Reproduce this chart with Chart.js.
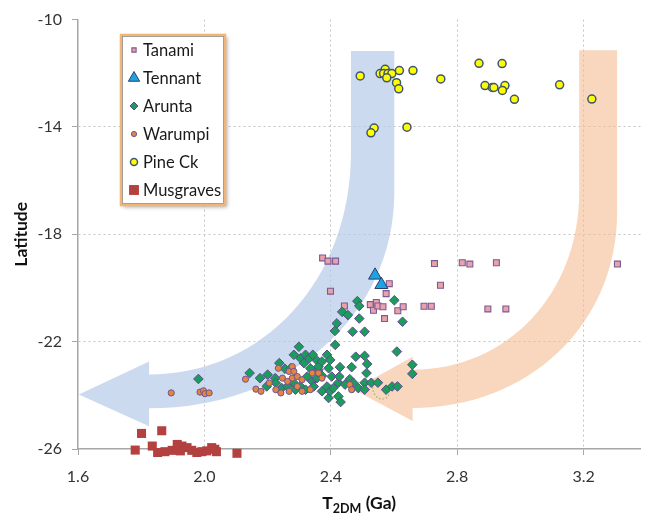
<!DOCTYPE html>
<html>
<head>
<meta charset="utf-8">
<script src="https://cdn.jsdelivr.net/npm/chart.js@4.4.1/dist/chart.umd.min.js"></script>
<style>
  html, body { margin: 0; padding: 0; background: #fff; }
  canvas { display: block; }
</style>
</head>
<body>
<canvas id="chart" width="649" height="521"></canvas>
<script>
// values: [T2DM (Ga), latitude]
const tanami = [
  [2.374,-18.88],[2.391,-19.00],[2.415,-19.00],[2.399,-20.12],[2.443,-20.67],
  [2.525,-20.62],[2.535,-20.83],[2.544,-20.54],[2.549,-20.67],[2.565,-20.70],
  [2.575,-20.21],[2.585,-19.84],[2.612,-20.85],[2.629,-20.70],[2.570,-21.14],
  [2.695,-20.68],[2.718,-20.68],[2.728,-19.09],[2.747,-19.90],[2.816,-19.06],
  [2.840,-19.11],[2.924,-19.06],[2.897,-20.78],[2.954,-20.78],[3.307,-19.11]
];
const tennant = [[2.540,-19.53],[2.560,-19.88]];
const arunta = [
  [1.981,-23.39],[2.143,-23.17],[2.176,-23.36],[2.200,-23.23],[2.224,-23.36],
  [2.237,-22.80],[2.255,-23.01],[2.197,-23.67],[2.226,-23.54],[2.245,-23.73],
  [2.263,-23.67],[2.273,-22.99],[2.283,-22.49],[2.283,-23.54],[2.288,-23.79],
  [2.299,-22.19],[2.304,-22.62],[2.304,-23.67],[2.315,-22.80],[2.320,-22.49],
  [2.320,-23.79],[2.325,-23.30],[2.332,-22.62],[2.335,-22.99],[2.341,-23.48],
  [2.343,-22.49],[2.346,-23.67],[2.356,-22.70],[2.356,-23.36],[2.361,-23.05],
  [2.361,-22.93],[2.372,-22.74],[2.372,-23.27],[2.372,-23.85],[2.388,-22.49],
  [2.388,-23.67],[2.393,-22.99],[2.393,-24.10],[2.398,-22.68],[2.398,-23.85],
  [2.403,-23.30],[2.408,-23.73],[2.414,-22.12],[2.424,-23.53],[2.424,-24.04],
  [2.427,-23.30],[2.429,-22.95],[2.445,-23.60],[2.460,-23.40],[2.466,-22.95],
  [2.471,-23.53],[2.479,-22.56],[2.487,-23.73],[2.507,-22.53],[2.507,-23.53],
  [2.507,-23.79],[2.513,-23.17],[2.515,-22.83],[2.528,-23.53],[2.549,-23.53],
  [2.575,-23.79],[2.594,-23.67],[2.611,-23.67],[2.609,-22.37],[2.658,-22.86],
  [2.658,-23.20],[2.413,-21.60],[2.419,-21.32],[2.436,-20.89],[2.454,-21.01],
  [2.484,-20.49],[2.490,-20.67],[2.490,-21.14],[2.469,-21.63],[2.507,-21.63],
  [2.601,-20.46],[2.627,-21.26],[2.431,-24.25]
];
const warumpi = [
  [1.895,-23.91],[1.986,-23.88],[1.997,-23.83],[2.002,-23.94],[2.015,-23.91],
  [2.130,-23.40],[2.163,-23.77],[2.179,-23.85],[2.234,-22.99],[2.268,-23.11],
  [2.278,-22.93],[2.247,-23.36],[2.263,-23.48],[2.278,-23.36],[2.294,-23.30],
  [2.309,-23.42],[2.205,-23.54],[2.226,-23.79],[2.242,-23.91],[2.268,-23.85],
  [2.294,-23.67],[2.309,-23.85],[2.335,-23.79],[2.283,-23.11],[2.341,-23.17],
  [2.372,-23.36],[2.460,-23.60],[2.466,-23.79],[2.361,-23.17]
];
const pineCk = [
  [2.493,-12.10],[2.556,-12.01],[2.572,-11.85],[2.567,-12.01],[2.581,-12.01],
  [2.593,-12.01],[2.577,-12.17],[2.617,-11.90],[2.660,-11.90],[2.608,-12.35],
  [2.615,-12.58],[2.748,-12.21],[2.869,-11.63],[2.942,-11.64],[2.888,-12.46],
  [2.911,-12.53],[2.916,-12.53],[2.951,-12.46],[2.943,-12.64],[2.981,-12.97],
  [3.124,-12.43],[3.226,-12.96],[2.537,-14.04],[2.527,-14.22],[2.641,-14.01]
];
const musgraves = [
  [1.781,-26.04],[1.801,-25.42],[1.865,-25.32],[1.835,-25.89],[1.852,-26.13],
  [1.875,-26.10],[1.898,-26.05],[1.914,-25.83],[1.929,-25.89],[1.945,-25.95],
  [1.924,-26.07],[1.960,-26.05],[1.976,-26.13],[1.992,-26.10],[2.007,-26.07],
  [2.023,-25.95],[2.033,-26.01],[2.038,-26.10],[2.103,-26.16]
];
const xTicks = [1.6, 2.0, 2.4, 2.8, 3.2];
const yTicks = [-26, -22, -18, -14, -10];

const FONT = 'Lato, "Open Sans", sans-serif';
const pts = a => a.map(p => ({ x: p[0], y: p[1] }));

// bent arrows behind the points, in data units
const blueArrow = {
  color: 'rgba(178, 200, 230, 0.68)',
  top: -11.17, inner: 2.4637, outer: 2.6009, headX: 1.825,
  innerCy: -14.96, outerCy: -16.44, innerEnd: -23.22, outerEnd: -24.48,
  wingTop: -22.74, wingBottom: -25.15, tipX: 1.6025, tipY: -23.97
};
const orangeArrow = {
  color: 'rgba(244, 188, 146, 0.6)',
  top: -11.14, inner: 3.186, outer: 3.306, headX: 2.659,
  innerCy: -16.44, outerCy: -17.19, innerEnd: -23.04, outerEnd: -24.47,
  wingTop: -22.56, wingBottom: -24.96, tipX: 2.472, tipY: -23.78
};
// small dotted loop drawn in the original near the orange arrow tip
const loopX = [2.531, 2.535, 2.548, 2.563, 2.578, 2.585, 2.584];
const loopY = [-23.56, -23.90, -24.10, -24.15, -24.08, -23.95, -23.74];

function drawArrow(ctx, xs, ys, a) {
  const k = 0.57;
  const X = v => xs.getPixelForValue(v), Y = v => ys.getPixelForValue(v);
  const xi = X(a.inner), xo = X(a.outer), yt = Y(a.top);
  const hx = X(a.headX);
  const ci = Y(a.innerCy), co = Y(a.outerCy);
  const yi = Y(a.innerEnd), yo = Y(a.outerEnd);
  ctx.save();
  ctx.fillStyle = a.color;
  ctx.beginPath();
  ctx.moveTo(xi, yt);
  ctx.lineTo(xo, yt);
  ctx.lineTo(xo, co);
  ctx.bezierCurveTo(xo, co + k * (yo - co), hx + k * (xo - hx), yo, hx, yo);
  ctx.lineTo(hx, Y(a.wingBottom));
  ctx.lineTo(X(a.tipX), Y(a.tipY));
  ctx.lineTo(hx, Y(a.wingTop));
  ctx.lineTo(hx, yi);
  ctx.bezierCurveTo(hx + k * (xi - hx), yi, xi, ci + k * (yi - ci), xi, ci);
  ctx.closePath();
  ctx.fill();
  ctx.restore();
}

const arrowPlugin = {
  id: 'arrows',
  beforeDatasetsDraw(chart) {
    const { ctx, scales } = chart;
    drawArrow(ctx, scales.x, scales.y, blueArrow);
    drawArrow(ctx, scales.x, scales.y, orangeArrow);
    ctx.save();
    ctx.strokeStyle = '#9BBB59';
    ctx.lineWidth = 1.2;
    ctx.setLineDash([1.5, 2]);
    ctx.beginPath();
    loopX.forEach((v, i) => {
      const px = scales.x.getPixelForValue(v), py = scales.y.getPixelForValue(loopY[i]);
      if (i === 0) ctx.moveTo(px, py); else ctx.lineTo(px, py);
    });
    ctx.stroke();
    ctx.restore();
  }
};

function marker(ctx, ds, x, y, r) {
  ctx.save();
  ctx.fillStyle = ds.backgroundColor;
  ctx.strokeStyle = ds.borderColor;
  ctx.lineWidth = ds.borderWidth;
  Chart.helpers.drawPoint(ctx, { pointStyle: ds.pointStyle, radius: r, rotation: 0, borderWidth: ds.borderWidth }, x, y);
  ctx.restore();
}

const legendPlugin = {
  id: 'boxLegend',
  afterDraw(chart) {
    const ctx = chart.ctx;
    const bx = 121, by = 35, bw = 104, bh = 170;
    ctx.save();
    ctx.shadowColor = 'rgba(0,0,0,0.35)';
    ctx.shadowBlur = 4;
    ctx.shadowOffsetX = 2;
    ctx.shadowOffsetY = 2;
    ctx.fillStyle = '#fff';
    ctx.fillRect(bx, by, bw, bh);
    ctx.shadowColor = 'transparent';
    ctx.strokeStyle = '#F3B574';
    ctx.lineWidth = 2.5;
    ctx.strokeRect(bx, by, bw, bh);
    ctx.strokeStyle = '#8c8c8c';
    ctx.lineWidth = 0.8;
    ctx.strokeRect(bx + 1.5, by + 1.5, bw - 3, bh - 3);
    ctx.restore();
    const sizes = [3, 6.5, 4, 2.6, 3.5, 7];
    chart.data.datasets.forEach((ds, i) => {
      const y = 50 + i * 28;
      marker(ctx, ds, 134, y, sizes[i]);
      ctx.save();
      ctx.fillStyle = '#1a1a1a';
      ctx.font = '16.5px ' + FONT;
      ctx.textBaseline = 'middle';
      ctx.fillText(ds.label, 143, y + 1);
      ctx.restore();
    });
  }
};

const titlePlugin = {
  id: 'axisTitles',
  afterDraw(chart) {
    const ctx = chart.ctx;
    const area = chart.chartArea;
    ctx.save();
    ctx.fillStyle = '#111';
    ctx.font = 'bold 17.5px ' + FONT;
    ctx.textAlign = 'center';
    ctx.textBaseline = 'middle';
    ctx.translate(21, (area.top + area.bottom) / 2);
    ctx.rotate(-Math.PI / 2);
    ctx.fillText('Latitude', 0, 0);
    ctx.restore();

    ctx.save();
    ctx.fillStyle = '#111';
    ctx.textBaseline = 'alphabetic';
    const big = 'bold 17.5px ' + FONT, small = 'bold 12.5px ' + FONT;
    ctx.font = big;
    const w1 = ctx.measureText('T').width, w3 = ctx.measureText(' (Ga)').width;
    ctx.font = small;
    const w2 = ctx.measureText('2DM').width;
    let x = (area.left + area.right) / 2 - (w1 + w2 + w3) / 2;
    ctx.font = big;
    ctx.fillText('T', x, 509);
    x += w1;
    ctx.font = small;
    ctx.fillText('2DM', x, 513);
    x += w2;
    ctx.font = big;
    ctx.fillText(' (Ga)', x, 509);
    ctx.restore();
  }
};

const gridColor = '#C4C4C4';
const axisColor = '#A6A6A6';

new Chart(document.getElementById('chart'), {
  type: 'scatter',
  data: {
    datasets: [
      { label: 'Tanami', data: pts(tanami), order: 6, pointStyle: 'rect', pointRadius: 4.2,
        backgroundColor: '#E9A2A8', borderColor: '#7A5A98', borderWidth: 1.1 },
      { label: 'Tennant', data: pts(tennant), order: 5, pointStyle: 'triangle', pointRadius: 7.5,
        backgroundColor: '#1BA3E3', borderColor: '#2B3F6E', borderWidth: 1 },
      { label: 'Arunta', data: pts(arunta), order: 4, pointStyle: 'rectRot', pointRadius: 4.8,
        backgroundColor: '#1A9C5C', borderColor: '#5B4B8C', borderWidth: 1 },
      { label: 'Warumpi', data: pts(warumpi), order: 3, pointStyle: 'circle', pointRadius: 3.1,
        backgroundColor: '#E3843F', borderColor: '#6E5592', borderWidth: 1 },
      { label: 'Pine Ck', data: pts(pineCk), order: 2, pointStyle: 'circle', pointRadius: 4,
        backgroundColor: '#FFFF00', borderColor: '#3E5670', borderWidth: 1.5 },
      { label: 'Musgraves', data: pts(musgraves), order: 1, pointStyle: 'rect', pointRadius: 6.4,
        backgroundColor: '#B3413F', borderColor: '#B3413F', borderWidth: 0 }
    ].map(d => Object.assign(d, { clip: false, pointHoverRadius: d.pointRadius }))
  },
  options: {
    responsive: false,
    devicePixelRatio: 1,
    animation: false,
    layout: { padding: { top: 16, right: 2, left: 0, bottom: 0 } },
    plugins: { legend: { display: false }, tooltip: { enabled: false } },
    scales: {
      x: {
        type: 'linear', min: 1.6, max: 3.38,
        afterBuildTicks: s => { s.ticks = xTicks.map(v => ({ value: v })); },
        afterFit: s => { s.height = 72; },
        ticks: { padding: 12, color: '#333', font: { family: FONT, size: 16 },
          callback: v => v.toFixed(1) },
        grid: { color: c => (c.tick && c.tick.value === 1.6 ? 'rgba(0,0,0,0)' : gridColor),
          tickColor: axisColor, tickLength: 6, lineWidth: 1 },
        border: { color: axisColor, width: 1.5, dash: [2, 3] }
      },
      y: {
        type: 'linear', min: -26, max: -10,
        afterBuildTicks: s => { s.ticks = yTicks.map(v => ({ value: v })); },
        afterFit: s => { s.width = 78; },
        ticks: { padding: 10, color: '#333', font: { family: FONT, size: 16 },
          callback: v => String(v) },
        grid: { color: c => (c.tick && (c.tick.value === -10 || c.tick.value === -26) ? 'rgba(0,0,0,0)' : gridColor),
          tickColor: axisColor, tickLength: 6, lineWidth: 1 },
        border: { color: axisColor, width: 1.5, dash: [2, 3] }
      }
    }
  },
  plugins: [arrowPlugin, legendPlugin, titlePlugin]
});
</script>
</body>
</html>
